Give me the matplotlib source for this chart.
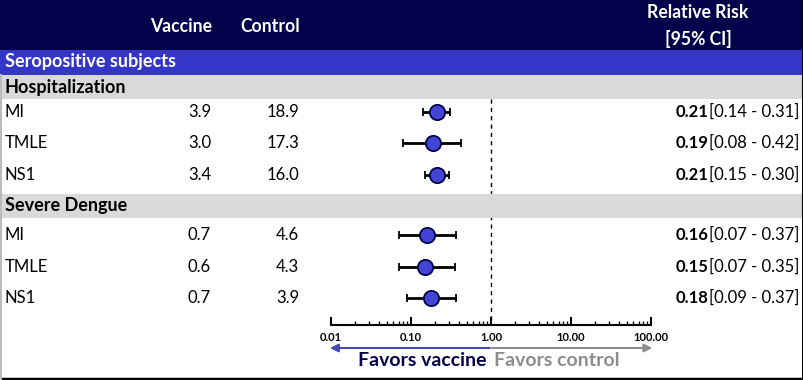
import matplotlib.pyplot as plt
from matplotlib.patches import Rectangle
from matplotlib.ticker import FixedLocator, FuncFormatter, LogLocator, NullFormatter

plt.rcParams['font.family'] = ['Lato', 'DejaVu Sans']

# data
groups = ['Hospitalization', 'Severe Dengue']
methods = ['MI', 'TMLE', 'NS1']
vaccine = [3.9, 3.0, 3.4, 0.7, 0.6, 0.7]
control = [18.9, 17.3, 16.0, 4.6, 4.3, 3.9]
rr = [0.21, 0.19, 0.21, 0.16, 0.15, 0.18]
rr_lo = [0.14, 0.08, 0.15, 0.07, 0.07, 0.09]
rr_hi = [0.31, 0.42, 0.30, 0.37, 0.35, 0.37]
axis_ticks = [0.01, 0.1, 1, 10, 100]

navy = '#02024a'
blue_band = '#3535c8'
grey_band = '#d9d9d9'
dot = '#4343d6'

W, H = 804, 380
fig = plt.figure(figsize=(W / 100, H / 100), dpi=100)

# layout (pixels from top)
row_y = [112, 143, 175, 235, 267, 298]
group_band = [(75, 99), (194, 218)]
axis_y = 325

# forest plot axes (log scale), y in pixel rows
fx0, fx1 = 331, 651
fa = fig.add_axes([fx0 / W, 0, (fx1 - fx0) / W, 1])
fa.set_xscale('log')
fa.set_xlim(0.01, 100)
fa.set_ylim(H, 0)
fa.patch.set_alpha(0)
for s in ['top', 'left', 'right']:
    fa.spines[s].set_visible(False)
fa.spines['bottom'].set_position(('data', axis_y))
fa.spines['bottom'].set_linewidth(1.5)
fa.set_yticks([])
fa.xaxis.set_major_locator(FixedLocator(axis_ticks))
fa.xaxis.set_major_formatter(FuncFormatter(lambda v, p: '%.2f' % v))
fa.xaxis.set_minor_locator(LogLocator(base=10, subs=range(2, 10), numticks=20))
fa.xaxis.set_minor_formatter(NullFormatter())
fa.tick_params(axis='x', which='major', direction='in', length=6, width=1.5,
               labelsize=8, pad=5)
fa.tick_params(axis='x', which='minor', direction='in', length=3, width=1)
for lbl in fa.get_xticklabels():
    lbl.set_fontweight('bold')

fa.plot([1, 1], [99, axis_y - 3], color='black', lw=1, ls=(0, (3, 3)), zorder=1)

for y, r, lo, hi in zip(row_y, rr, rr_lo, rr_hi):
    fa.errorbar(r, y, xerr=[[r - lo], [hi - r]], fmt='o', color='black',
                ecolor='black', elinewidth=2, capsize=3, capthick=2,
                markersize=11, markerfacecolor=dot, markeredgecolor=navy,
                markeredgewidth=1.3, zorder=3)

fa.annotate('', xy=(0.0097, 348), xytext=(0.97, 348), annotation_clip=False,
            arrowprops=dict(arrowstyle='-|>', color='#4646b4', lw=1.5,
                            mutation_scale=12, shrinkA=0, shrinkB=0))
fa.annotate('', xy=(104, 348), xytext=(1.03, 348), annotation_clip=False,
            arrowprops=dict(arrowstyle='-|>', color='#8c8c8c', lw=1.5,
                            mutation_scale=12, shrinkA=0, shrinkB=0))

# table overlay
ov = fig.add_axes([0, 0, 1, 1], zorder=2)
ov.set_xlim(0, W)
ov.set_ylim(H, 0)
ov.axis('off')
ov.patch.set_alpha(0)

ov.add_patch(Rectangle((0, 0), W, 50, color=navy, lw=0))
ov.add_patch(Rectangle((0, 50), W, 25, color=blue_band, lw=0))
for top, bot in group_band:
    ov.add_patch(Rectangle((0, top), W, bot - top, color=grey_band, lw=0))

fs = 12
hfs = 12.7
ov.text(181, 26, 'Vaccine', color='white', fontsize=hfs, fontweight='bold',
        ha='center', va='center')
ov.text(270, 26, 'Control', color='white', fontsize=hfs, fontweight='bold',
        ha='center', va='center')
ov.text(698, 13, 'Relative Risk', color='white', fontsize=hfs,
        fontweight='bold', ha='center', va='center')
ov.text(698, 39, '[95% CI]', color='white', fontsize=hfs, fontweight='bold',
        ha='center', va='center')
ov.text(5, 62, 'Seropositive subjects', color='white', fontsize=13,
        fontweight='bold', ha='left', va='center')
for g, (top, bot) in zip(groups, group_band):
    ov.text(5, (top + bot) / 2, g, color='black', fontsize=13,
            fontweight='bold', ha='left', va='center')

for i, y in enumerate(row_y):
    ov.text(5, y, methods[i % 3], fontsize=fs, ha='left', va='center')
    ov.text(211, y, '%.1f' % vaccine[i], fontsize=fs, ha='right', va='center')
    ov.text(299, y, '%.1f' % control[i], fontsize=fs, ha='right', va='center')
    ov.text(709, y, '%.2f' % rr[i], fontsize=fs, fontweight='bold',
            ha='right', va='center')
    ov.text(709, y, '[%.2f - %.2f]' % (rr_lo[i], rr_hi[i]), fontsize=fs,
            ha='left', va='center')

ov.text(487, 361, 'Favors vaccine', color=navy, fontsize=14,
        fontweight='bold', ha='right', va='center')
ov.text(494, 361, 'Favors control', color='#8c8c8c', fontsize=14,
        fontweight='bold', ha='left', va='center')

# frame lines
ov.plot([0, W], [379, 379], color='black', lw=2.5)
ov.plot([803, 803], [0, H], color='black', lw=1.5)
ov.plot([0.5, 0.5], [75, H], color='#bbbbbb', lw=1.5)

fig.savefig('out.png', dpi=100)
